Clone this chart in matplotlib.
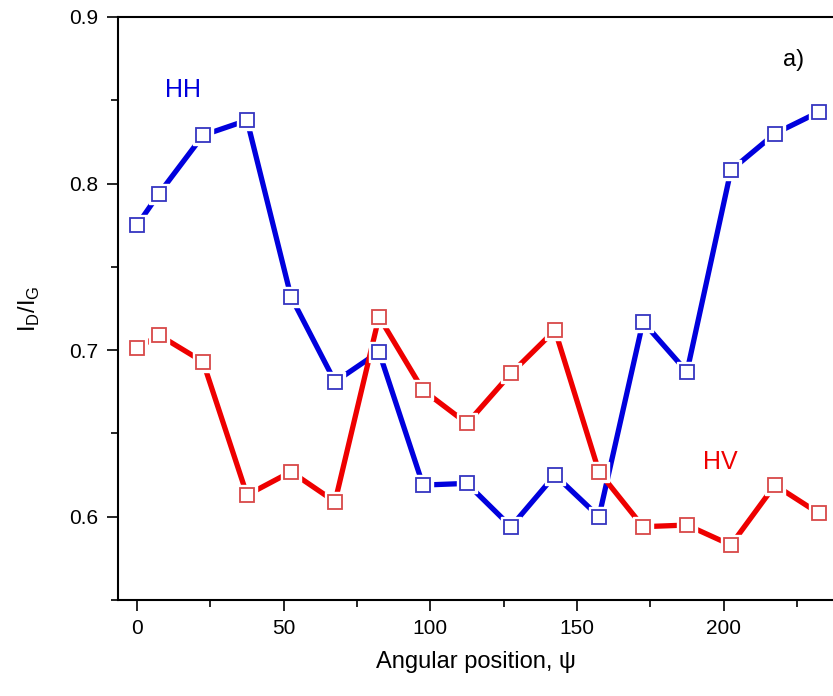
import matplotlib.pyplot as plt
from matplotlib.ticker import MultipleLocator

plt.rcParams['font.family'] = ['Liberation Sans', 'DejaVu Sans']

# Angular position (deg)
angle = [0, 7.5, 22.5, 37.5, 52.5, 67.5, 82.5, 97.5, 112.5, 127.5,
         142.5, 157.5, 172.5, 187.5, 202.5, 217.5, 232.5]

# I_D/I_G ratios
hh = [0.775, 0.794, 0.829, 0.838, 0.732, 0.681, 0.699, 0.619, 0.620, 0.594,
      0.625, 0.600, 0.717, 0.687, 0.808, 0.830, 0.843]
hv = [0.701, 0.709, 0.693, 0.613, 0.627, 0.609, 0.720, 0.676, 0.656, 0.686,
      0.712, 0.627, 0.594, 0.595, 0.583, 0.619, 0.602]

fig = plt.figure(figsize=(8.33, 6.96), dpi=100)
ax = fig.add_axes([118 / 833, 1 - 600 / 696, 1 - 118 / 833, (600 - 17) / 696])

for y, lc, mc in [(hh, '#0000dd', '#3535c0'), (hv, '#ee0000', '#d84848')]:
    ax.plot(angle, y, color=lc, lw=3.8, solid_capstyle='butt', zorder=2)
    # white pad around markers so lines stop short of them
    ax.plot(angle, y, ls='none', marker='s', ms=15, mfc='white', mec='white', zorder=3)
    ax.plot(angle, y, ls='none', marker='s', ms=9.5, mfc='white', mec=mc, mew=1.3, zorder=4)

ax.set_xlim(-6.5, 237.3)
ax.set_ylim(0.55, 0.9)
ax.xaxis.set_major_locator(MultipleLocator(50))
ax.xaxis.set_minor_locator(MultipleLocator(25))
ax.yaxis.set_major_locator(MultipleLocator(0.1))
ax.yaxis.set_minor_locator(MultipleLocator(0.05))
ax.yaxis.set_major_formatter(plt.FuncFormatter(lambda v, p: f'{v:.1f}'))
ax.tick_params(which='major', direction='out', length=8, width=1.2, labelsize=15, pad=6)
ax.tick_params(which='minor', direction='out', length=5, width=1.2)
ax.spines['right'].set_visible(False)
for s in ['left', 'bottom', 'top']:
    ax.spines[s].set_linewidth(1.5)

ax.set_xlabel('Angular position, ψ', fontsize=17, labelpad=9)
ax.set_ylabel(r'I$_{\mathregular{D}}$/I$_{\mathregular{G}}$', fontsize=17, labelpad=20)

ax.text(9.5, 0.856, 'HH', color='#0000dd', fontsize=18, ha='left', va='center')
ax.text(198.8, 0.633, 'HV', color='#ee0000', fontsize=18, ha='center', va='center')
ax.text(224, 0.874, 'a)', color='black', fontsize=17, ha='center', va='center')

fig.savefig('out.png', dpi=100)
